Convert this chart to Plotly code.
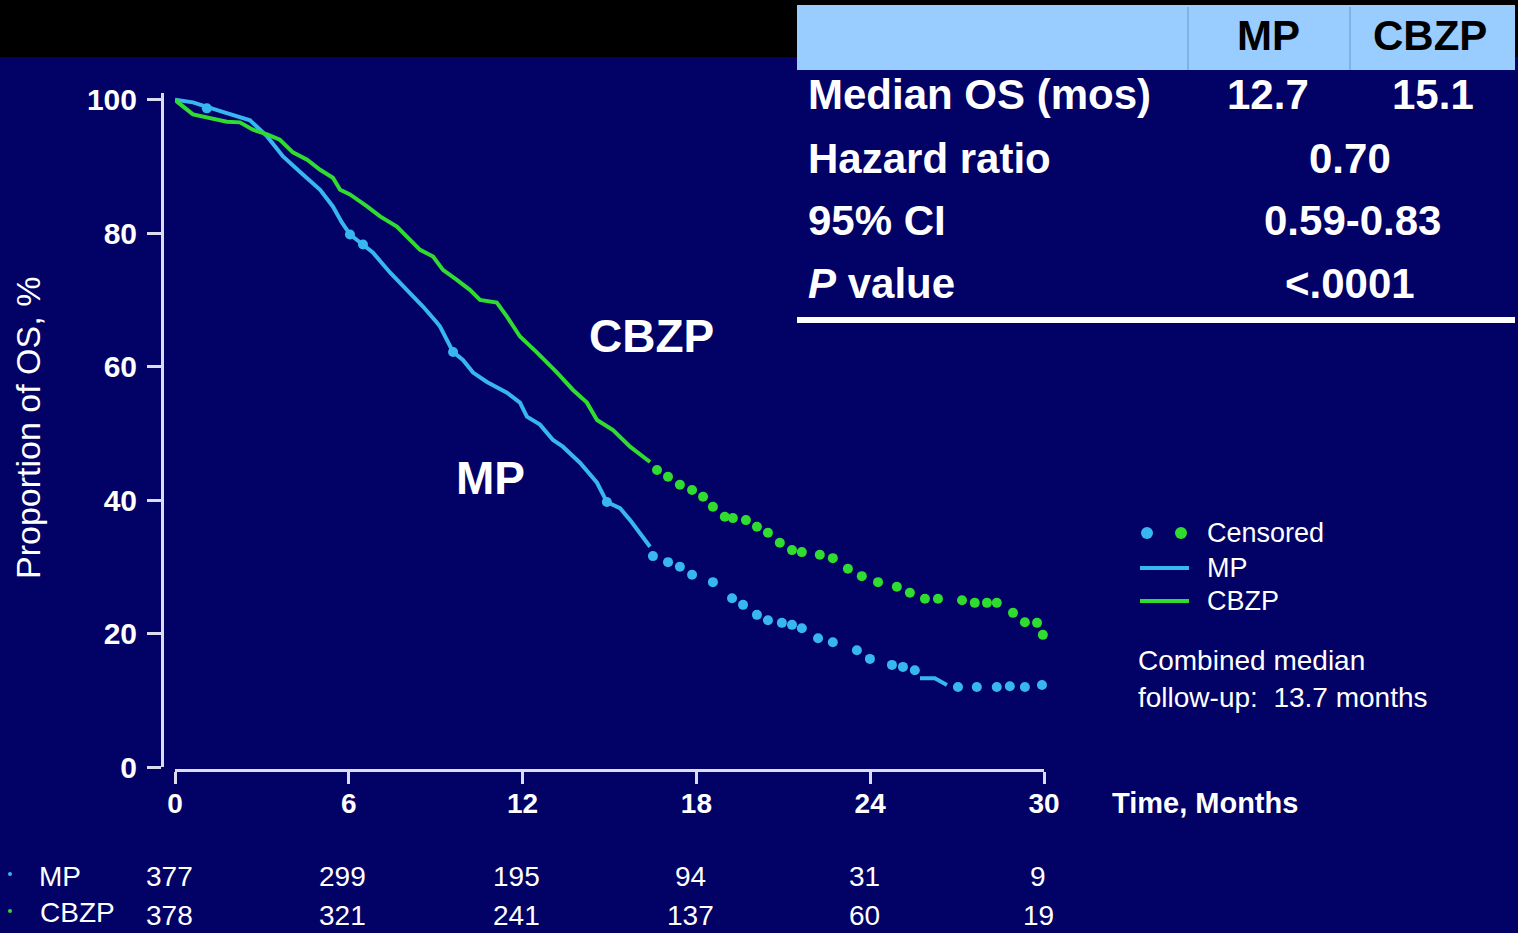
import plotly.graph_objects as go

# ---------------- data ----------------
mp_t = [0, 0.62, 1.62, 2.14, 2.59, 3.18, 3.73, 4.31, 5.01, 5.45, 5.76, 6.04, 6.49, 6.83,
        7.42, 8.01, 8.56, 9.04, 9.15, 9.60, 9.94, 10.29, 10.77, 11.46, 11.91, 12.15, 12.60,
        13.05, 13.39, 13.98, 14.57, 14.91, 15.36, 15.71, 16.05, 16.40,
        None, 25.72, 26.23, 26.65]
mp_s = [100, 99.6, 98.2, 97.5, 96.9, 94.5, 91.5, 89.2, 86.5, 84.0, 81.6, 79.8, 78.3, 77.1,
        74.1, 71.5, 69.0, 66.6, 66.0, 62.2, 61.0, 59.1, 57.7, 56.1, 54.6, 52.5, 51.3,
        49.0, 48.0, 45.6, 42.6, 39.7, 38.8, 37.0, 35.1, 33.0,
        None, 13.3, 13.3, 12.3]

cbzp_t = [0, 0.07, 0.62, 1.10, 1.79, 2.24, 2.69, 3.18, 3.62, 4.07, 4.56, 5.01, 5.45, 5.70,
          6.04, 6.63, 7.08, 7.66, 8.01, 8.46, 8.91, 9.25, 9.73, 10.18, 10.53, 11.11, 11.46,
          11.91, 12.50, 12.94, 13.19, 13.74, 14.22, 14.57, 15.12, 15.71, 16.40]
cbzp_s = [100, 99.7, 97.8, 97.3, 96.7, 96.6, 95.5, 94.8, 94.0, 92.1, 91.0, 89.5, 88.3, 86.5,
          85.8, 84.0, 82.5, 81.0, 79.5, 77.5, 76.5, 74.5, 73.0, 71.5, 70.0, 69.6, 67.5,
          64.5, 62.1, 60.3, 59.1, 56.5, 54.6, 52.0, 50.5, 48.0, 45.7]

mp_cens_t = [1.10, 6.04, 6.49, 9.60, 14.91, 16.50, 17.02, 17.43, 17.85, 18.57, 19.23, 19.61,
             20.09, 20.47, 20.95, 21.30, 21.64, 22.20, 22.71, 23.54, 23.99, 24.75, 25.13,
             25.54, 27.03, 27.68, 28.37, 28.82, 29.34, 29.93]
mp_cens_s = [98.7, 79.8, 78.3, 62.2, 39.7, 31.6, 30.7, 30.0, 28.8, 27.7, 25.3, 24.3,
             22.8, 22.0, 21.6, 21.3, 20.8, 19.3, 18.7, 17.5, 16.2, 15.3, 15.0,
             14.5, 12.0, 12.0, 12.0, 12.1, 12.0, 12.3]

cbzp_cens_t = [16.64, 17.02, 17.43, 17.85, 18.23, 18.57, 18.98, 19.26, 19.71, 20.09, 20.47,
               20.88, 21.30, 21.64, 22.26, 22.71, 23.23, 23.71, 24.27, 24.92, 25.37, 25.89,
               26.34, 27.17, 27.61, 28.03, 28.37, 28.93, 29.34, 29.76, 29.96]
cbzp_cens_s = [44.5, 43.5, 42.3, 41.5, 40.5, 39.0, 37.5, 37.3, 37.0, 36.0, 35.1,
               33.6, 32.5, 32.2, 31.8, 31.3, 29.7, 28.6, 27.7, 27.0, 26.1, 25.2,
               25.2, 25.0, 24.6, 24.6, 24.6, 23.1, 21.7, 21.6, 19.8]

x_ticks = [0, 6, 12, 18, 24, 30]
y_ticks = [0, 20, 40, 60, 80, 100]
risk_mp = [377, 299, 195, 94, 31, 9]
risk_cbzp = [378, 321, 241, 137, 60, 19]

table_rows = ["Median OS (mos)", "Hazard ratio", "95% CI", "<i>P</i> value"]
median_os = ["12.7", "15.1"]
hazard_ratio = "0.70"
ci95 = "0.59-0.83"
p_value = "<.0001"

# ---------------- styling ----------------
W, H = 1518, 933
L, R, T, B = 162, 1044, 93, 770
BG = "#010166"
MPC = "#38b6f0"
CBC = "#2fdc2f"
AXC = "#dcdcf0"
FONT = "Liberation Sans"


def px(x):
    return (x - L) / (R - L)


def py(y):
    return (B - y) / (B - T)


fig = go.Figure()
fig.add_trace(go.Scatter(x=mp_t, y=mp_s, mode="lines", line=dict(color=MPC, width=4),
                         connectgaps=False, showlegend=False, hoverinfo="skip"))
fig.add_trace(go.Scatter(x=cbzp_t, y=cbzp_s, mode="lines", line=dict(color=CBC, width=4),
                         showlegend=False, hoverinfo="skip"))
fig.add_trace(go.Scatter(x=mp_cens_t, y=mp_cens_s, mode="markers",
                         marker=dict(color=MPC, size=10), cliponaxis=False,
                         showlegend=False, hoverinfo="skip"))
fig.add_trace(go.Scatter(x=cbzp_cens_t, y=cbzp_cens_s, mode="markers",
                         marker=dict(color=CBC, size=10), cliponaxis=False,
                         showlegend=False, hoverinfo="skip"))

shapes = []
# black band at top
shapes.append(dict(type="rect", xref="paper", yref="paper", x0=px(0), x1=px(W), y0=py(57), y1=py(0),
                   fillcolor="black", line=dict(width=0), layer="below"))
# table header
shapes.append(dict(type="rect", xref="paper", yref="paper", x0=px(797), x1=px(1515), y0=py(70), y1=py(5),
                   fillcolor="#99ccff", line=dict(width=0), layer="below"))
for sx in (1188, 1350):
    shapes.append(dict(type="line", xref="paper", yref="paper", x0=px(sx), x1=px(sx), y0=py(70), y1=py(7),
                       line=dict(color="#7fb2e6", width=2)))
shapes.append(dict(type="line", xref="paper", yref="paper", x0=px(797), x1=px(1515), y0=py(320), y1=py(320),
                   line=dict(color="white", width=6)))
# legend symbols
shapes.append(dict(type="circle", xref="paper", yref="paper", x0=px(1141), x1=px(1153), y0=py(539), y1=py(527),
                   fillcolor=MPC, line=dict(width=0)))
shapes.append(dict(type="circle", xref="paper", yref="paper", x0=px(1175), x1=px(1187), y0=py(539), y1=py(527),
                   fillcolor=CBC, line=dict(width=0)))
shapes.append(dict(type="line", xref="paper", yref="paper", x0=px(1140), x1=px(1189), y0=py(568), y1=py(568),
                   line=dict(color=MPC, width=4)))
shapes.append(dict(type="line", xref="paper", yref="paper", x0=px(1140), x1=px(1189), y0=py(601), y1=py(601),
                   line=dict(color=CBC, width=4)))
# small dots in number-at-risk table
shapes.append(dict(type="circle", xref="paper", yref="paper", x0=px(8), x1=px(12), y0=py(876), y1=py(872),
                   fillcolor=MPC, line=dict(width=0)))
shapes.append(dict(type="circle", xref="paper", yref="paper", x0=px(8), x1=px(12), y0=py(913), y1=py(909),
                   fillcolor=CBC, line=dict(width=0)))

ann = []


def text(x, y, s, size, color="white", bold=False, xanchor="left", angle=0, xref="paper", xshift=0):
    ann.append(dict(x=x, y=py(y), xref=xref, yref="paper", text=s, showarrow=False,
                    xanchor=xanchor, yanchor="middle", textangle=angle, xshift=xshift,
                    font=dict(family=FONT, size=size, color=color,
                              weight="bold" if bold else "normal")))


# table
text(px(1268), 35, "MP", 42, color="black", bold=True, xanchor="center")
text(px(1430), 35, "CBZP", 42, color="black", bold=True, xanchor="center")
row_y = [95, 158, 220, 283]
for r, yy in zip(table_rows, row_y):
    text(px(806), yy, r, 42, bold=True)
text(px(1268), 95, median_os[0], 42, bold=True, xanchor="center")
text(px(1433), 95, median_os[1], 42, bold=True, xanchor="center")
text(px(1350), 158, hazard_ratio, 42, bold=True, xanchor="center")
text(px(1352), 220, ci95, 42, bold=True, xanchor="center")
text(px(1350), 283, p_value, 42, bold=True, xanchor="center")

# curve labels
text(px(651), 336, "CBZP", 46, bold=True, xanchor="center")
text(px(490), 478, "MP", 46, bold=True, xanchor="center")

# legend texts
text(px(1205), 533, "Censored", 27)
text(px(1205), 568, "MP", 27)
text(px(1205), 601, "CBZP", 27)
text(px(1136), 660, "Combined median", 28)
text(px(1136), 697, "follow-up:  13.7 months", 28)

# axis titles
text(px(28), 428, "Proportion of OS, %", 34, xanchor="center", angle=-90)
text(px(1110), 803, "Time, Months", 29, bold=True)

# number at risk
text(px(37), 876, "MP", 28)
text(px(38), 913, "CBZP", 28)
for t, a, b in zip(x_ticks, risk_mp, risk_cbzp):
    text(t, 876, str(a), 28, xanchor="center", xref="x", xshift=-6)
    text(t, 915, str(b), 28, xanchor="center", xref="x", xshift=-6)

fig.update_layout(
    width=W, height=H,
    margin=dict(l=L, r=W - R, t=T, b=H - B, autoexpand=False),
    paper_bgcolor=BG, plot_bgcolor=BG,
    shapes=shapes, annotations=ann, showlegend=False,
    xaxis=dict(range=[0, 30], domain=[px(175), 1], anchor="free", position=0,
               tickvals=x_ticks, ticktext=[str(v) for v in x_ticks],
               showline=True, linecolor=AXC, linewidth=3, ticks="outside", ticklen=12,
               tickwidth=3, tickcolor=AXC, showgrid=False, zeroline=False,
               tickfont=dict(family=FONT, size=28, color="white", weight="bold"),
               ticklabelstandoff=-5),
    yaxis=dict(range=[0, 101], domain=[3 / (B - T), 1], anchor="free", position=0,
               tickvals=y_ticks, showline=True, linecolor=AXC, linewidth=3, ticks="outside",
               ticklen=14, tickwidth=3, tickcolor=AXC, showgrid=False, zeroline=False,
               tickfont=dict(family=FONT, size=30, color="white", weight="bold"),
               ticklabelstandoff=4),
)

fig.write_html("out.html", config={"displayModeBar": False})
